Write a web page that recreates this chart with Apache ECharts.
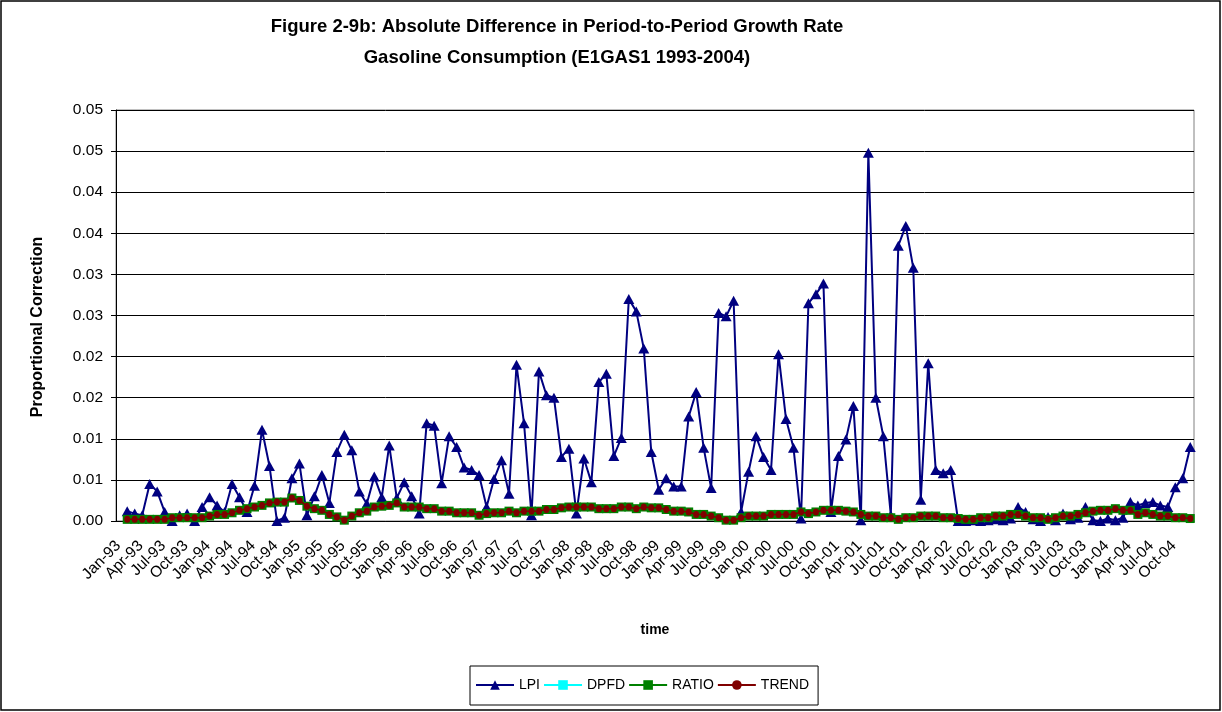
<!DOCTYPE html>
<html>
<head>
<meta charset="utf-8">
<script src="https://cdn.jsdelivr.net/npm/echarts@6/dist/echarts.min.js"></script>
<style>
html,body{margin:0;padding:0;background:#fff;}
#chart{width:1222px;height:712px;}
</style>
</head>
<body>
<div id="chart"></div>
<script>
// ---- data ----
const monthNames = ['Jan','Feb','Mar','Apr','May','Jun','Jul','Aug','Sep','Oct','Nov','Dec'];
const yearLabels = ['93','94','95','96','97','98','99','00','01','02','03','04'];
const categories = [];
yearLabels.forEach(y => monthNames.forEach(m => categories.push(m + '-' + y)));

const lpi = [null,
 0.0012,0.0009,0.0007,0.0045,0.0036,0.0011,0.0000,0.0007,0.0009,0.0000,0.0017,
 0.0029,0.0019,0.0011,0.0045,0.0029,0.0011,0.0043,0.0111,0.0067,0.0000,0.0004,0.0052,
 0.0070,0.0007,0.0030,0.0056,0.0022,0.0084,0.0105,0.0086,0.0036,0.0021,0.0054,0.0029,
 0.0092,0.0028,0.0047,0.0030,0.0009,0.0119,0.0116,0.0046,0.0103,0.0090,0.0065,0.0062,
 0.0056,0.0017,0.0051,0.0074,0.0033,0.0190,0.0119,0.0007,0.0182,0.0153,0.0150,0.0078,
 0.0088,0.0009,0.0076,0.0047,0.0169,0.0179,0.0079,0.0101,0.0270,0.0255,0.0210,0.0084,
 0.0038,0.0052,0.0042,0.0042,0.0127,0.0157,0.0089,0.0040,0.0253,0.0249,0.0268,0.0011,
 0.0060,0.0103,0.0078,0.0062,0.0203,0.0124,0.0089,0.0003,0.0265,0.0276,0.0289,0.0011,
 0.0079,0.0099,0.0140,0.0001,0.0448,0.0150,0.0103,0.0007,0.0335,0.0359,0.0308,0.0026,
 0.0192,0.0062,0.0058,0.0062,0.0000,0.0000,0.0001,0.0000,0.0001,0.0002,0.0001,0.0003,
 0.0017,0.0011,0.0002,0.0000,0.0005,0.0001,0.0009,0.0002,0.0004,0.0017,0.0001,0.0000,
 0.0003,0.0001,0.0004,0.0023,0.0019,0.0022,0.0023,0.0019,0.0017,0.0041,0.0052,0.0090];

const trend = [null,
 0.0002,0.0002,0.0002,0.0002,0.0002,0.0002,0.0004,0.0004,0.0004,0.0004,0.0004,
 0.0006,0.0008,0.0008,0.0010,0.0013,0.0015,0.0017,0.0019,0.0022,0.0023,0.0023,0.0028,
 0.0025,0.0018,0.0015,0.0013,0.0008,0.0005,0.0001,0.0006,0.0010,0.0012,0.0017,0.0018,
 0.0019,0.0022,0.0017,0.0017,0.0017,0.0015,0.0015,0.0012,0.0012,0.0010,0.0010,0.0010,
 0.0007,0.0009,0.0010,0.0010,0.0012,0.0010,0.0012,0.0012,0.0012,0.0014,0.0014,0.0016,
 0.0017,0.0017,0.0017,0.0017,0.0015,0.0015,0.0015,0.0017,0.0017,0.0015,0.0017,0.0016,
 0.0016,0.0014,0.0012,0.0012,0.0011,0.0008,0.0008,0.0006,0.0004,0.0001,0.0001,0.0004,
 0.0006,0.0006,0.0006,0.0008,0.0008,0.0008,0.0008,0.0011,0.0009,0.0011,0.0013,0.0013,
 0.0013,0.0012,0.0011,0.0008,0.0006,0.0006,0.0004,0.0004,0.0002,0.0004,0.0004,0.0006,
 0.0006,0.0006,0.0004,0.0004,0.0003,0.0002,0.0002,0.0004,0.0004,0.0006,0.0006,0.0008,
 0.0008,0.0006,0.0004,0.0004,0.0002,0.0004,0.0006,0.0006,0.0008,0.0010,0.0012,0.0013,
 0.0013,0.0015,0.0013,0.0013,0.0008,0.0010,0.0008,0.0006,0.0006,0.0004,0.0004,0.0003];

const ratio = trend.slice();
const dpfd = trend.slice();

// ---- chart ----
const font = "'Liberation Sans',Arial,sans-serif";
const chart = echarts.init(document.getElementById('chart'), null, {renderer:'canvas'});
chart.setOption({
  animation: false,
  backgroundColor: '#fff',
  title: {
    text: 'Figure 2-9b: Absolute Difference in Period-to-Period Growth Rate\nGasoline Consumption (E1GAS1 1993-2004)',
    left: 557, top: 11, padding: 0, textAlign: 'center',
    textStyle: {fontFamily: font, fontWeight: 'bold', fontSize: 18.5, lineHeight: 31, color: '#000'}
  },
  graphic: [{
    type: 'rect', shape: {x: 1, y: 1, width: 1219, height: 709},
    style: {fill: 'none', stroke: '#000', lineWidth: 1.5}, silent: true
  }],
  legend: {
    left: 470, top: 666,
    data: ['LPI','DPFD','RATIO','TREND'],
    itemWidth: 38, itemHeight: 12, itemGap: 3,
    padding: [12, 9, 13, 5],
    borderColor: '#000', borderWidth: 1,
    textStyle: {fontFamily: font, fontSize: 14, color: '#000'}
  },
  grid: {left: 116, right: 28, top: 110, bottom: 191, show: true, borderColor: '#808080', borderWidth: 1, containLabel: false},
  xAxis: {
    type: 'category', data: categories, boundaryGap: true,
    name: 'time', nameLocation: 'middle', nameGap: 102,
    nameTextStyle: {fontFamily: font, fontWeight: 'bold', fontSize: 14, color: '#000'},
    axisLine: {lineStyle: {color: '#000', width: 1}},
    axisTick: {interval: 2, length: 5, lineStyle: {color: '#000'}},
    axisLabel: {interval: (idx) => idx % 3 === 0, showMinLabel: true, showMaxLabel: true,
      rotate: 45, fontFamily: font, fontSize: 15.5, color: '#000', margin: 21,
      padding: [0, 2, 0, 0]},
    splitLine: {show: false}
  },
  yAxis: {
    type: 'value', min: 0, max: 0.05, interval: 0.005,
    name: 'Proportional Correction', nameLocation: 'middle', nameGap: 70, nameRotate: 90,
    nameTextStyle: {fontFamily: font, fontWeight: 'bold', fontSize: 16, color: '#000', padding: [0, 23, 0, 0]},
    axisLine: {show: true, lineStyle: {color: '#000', width: 1}},
    axisTick: {show: true, length: 5, lineStyle: {color: '#000'}},
    axisLabel: {fontFamily: font, fontSize: 15.5, color: '#000', margin: 13,
      formatter: v => (Math.round(v * 100 + 1e-6) / 100).toFixed(2)},
    splitLine: {lineStyle: {color: '#000', width: 1}}
  },
  series: [
    {name: 'LPI', type: 'line', data: lpi, z: 2, showAllSymbol: true,
     symbol: 'triangle', symbolSize: [11, 10],
     itemStyle: {color: '#000080'}, lineStyle: {color: '#000080', width: 2}},
    {name: 'DPFD', type: 'line', data: dpfd, z: 3, showAllSymbol: true,
     symbol: 'rect', symbolSize: 4,
     itemStyle: {color: '#00FFFF'}, lineStyle: {color: '#00FFFF', width: 2}},
    {name: 'RATIO', type: 'line', data: ratio, z: 4, showAllSymbol: true,
     symbol: 'rect', symbolSize: 9,
     itemStyle: {color: '#008000'}, lineStyle: {color: '#008000', width: 2}},
    {name: 'TREND', type: 'line', data: trend, z: 5, showAllSymbol: true,
     symbol: 'circle', symbolSize: [6, 7],
     itemStyle: {color: '#800000'}, lineStyle: {color: '#800000', width: 1.5}}
  ]
});
</script>
</body>
</html>
